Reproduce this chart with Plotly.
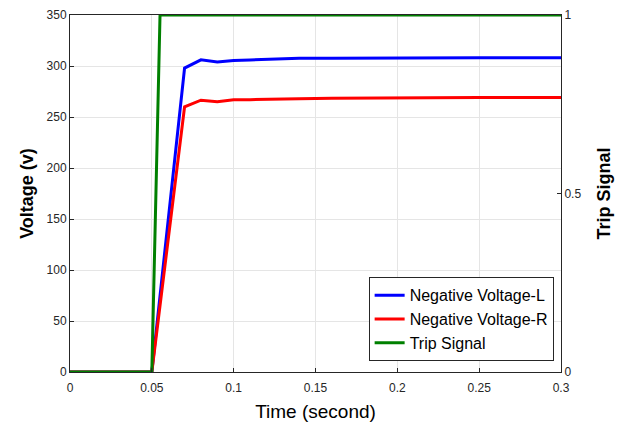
import plotly.graph_objects as go

t_v = [0, 0.05, 0.07, 0.08, 0.09, 0.10, 0.11, 0.12, 0.13, 0.14, 0.16, 0.20, 0.25, 0.30]
v_left = [0, 0, 298, 306, 304, 305.5, 306, 306.5, 306.5, 307.5, 307.5, 308, 308, 308]
v_right = [0, 0, 260, 266.5, 265, 267, 267, 267.5, 268, 268, 268.5, 269, 269, 269]
t_trip = [0, 0.05, 0.055, 0.30]
trip = [0, 0, 1, 1]

fig = go.Figure()
fig.add_trace(go.Scatter(x=t_v, y=v_left, mode="lines", name="Negative Voltage-L",
                         line=dict(color="#0000ff", width=3)))
fig.add_trace(go.Scatter(x=t_v, y=v_right, mode="lines", name="Negative Voltage-R",
                         line=dict(color="#ff0000", width=3)))
fig.add_trace(go.Scatter(x=t_trip, y=trip, mode="lines", name="Trip Signal",
                         line=dict(color="#008000", width=3), yaxis="y2"))

font = "Arial, Liberation Sans, sans-serif"
fig.update_layout(
    width=643, height=425,
    margin=dict(l=70, r=82, t=15, b=53),
    paper_bgcolor="white", plot_bgcolor="white",
    font=dict(family=font, color="#262626", size=12),
    showlegend=True,
    legend=dict(x=0.985, y=0.03, xanchor="right", yanchor="bottom",
                bgcolor="white", bordercolor="#262626", borderwidth=1,
                font=dict(size=16, color="black"), tracegroupgap=0,
                itemwidth=30),
    xaxis=dict(range=[0, 0.3], tickvals=[0, 0.05, 0.1, 0.15, 0.2, 0.25, 0.3],
               ticktext=["0", "0.05", "0.1", "0.15", "0.2", "0.25", "0.3"],
               showgrid=True, gridcolor="#e5e5e5", gridwidth=1,
               showline=True, linecolor="#262626", linewidth=1, mirror=True,
               ticks="inside", ticklen=4, tickcolor="#262626", zeroline=False,
               ticklabelstandoff=5, automargin=False,
               title=dict(text="Time (second)", font=dict(size=19, color="black"), standoff=10)),
    yaxis=dict(range=[0, 350], tickvals=[0, 50, 100, 150, 200, 250, 300, 350],
               showgrid=True, gridcolor="#e5e5e5", gridwidth=1,
               showline=True, linecolor="#262626", linewidth=1,
               ticks="inside", ticklen=4, tickcolor="#262626", zeroline=False,
               automargin=False,
               title=dict(text="<b>Voltage (v)</b>", font=dict(size=18, color="black"), standoff=8)),
    yaxis2=dict(range=[0, 1], overlaying="y", side="right",
                tickvals=[0, 0.5, 1], ticktext=["0", "0.5", "1"],
                showgrid=False, showline=True, linecolor="#262626", linewidth=1,
                ticks="inside", ticklen=4, tickcolor="#262626", zeroline=False,
                automargin=False,
                title=dict(text="<b>Trip Signal</b>", font=dict(size=18, color="black"), standoff=16)),
)
fig.write_html("out.html")
